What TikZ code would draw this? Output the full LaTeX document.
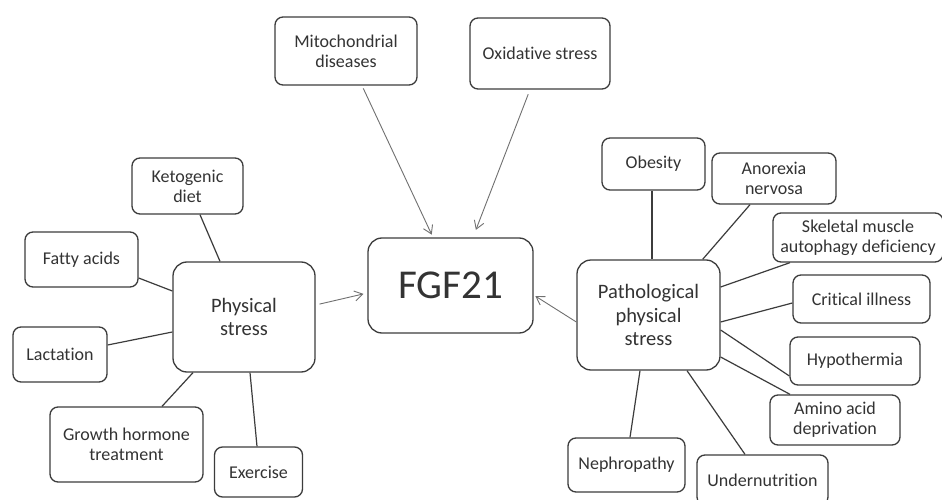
\documentclass[tikz,border=0pt]{standalone}
\usepackage{fontspec}
\setmainfont{Carlito}[Ligatures=NoCommon]
\usetikzlibrary{arrows.meta}
\definecolor{boxc}{HTML}{3C3C3C}
\definecolor{txtc}{HTML}{333333}
\definecolor{arrc}{HTML}{707070}
\tikzset{
  box/.style={draw=boxc, line width=1.3pt, rounded corners=8pt, align=center,
    inner sep=0pt, text=txtc, font=\fontsize{18}{20}\selectfont},
  bigbox/.style={box, rounded corners=14pt, font=\fontsize{20.5}{23.5}\selectfont},
  link/.style={draw=boxc, line width=1.2pt},
  arr/.style={draw=arrc, line width=0.9pt, -{Straight Barb[length=8pt,width=10pt,line width=0.9pt]}}
}
\newcommand{\bx}[5]{\node[box, minimum width=#3pt, minimum height=#4pt] (#1) at (#2) {#5};}
\begin{document}
\begin{tikzpicture}[x=1pt,y=-1pt]
\useasboundingbox (0,0) rectangle (942,500);
\clip (0,0) rectangle (942,500);
\fill[white] (0,0) rectangle (942,500);
% centre
\node[box, rounded corners=14pt, minimum width=165pt, minimum height=95pt, font=\fontsize{41}{45}\selectfont] (fgf) at (450.5,285.5) {FGF21};
\node[bigbox, minimum width=142pt, minimum height=110pt] (phys) at (244,317) {Physical\\stress};
\node[bigbox, minimum width=143pt, minimum height=110pt] (path) at (648.5,315) {Pathological\\physical\\stress};
% top
\bx{mito}{346,51}{142}{68}{Mitochondrial\\diseases}
\bx{oxid}{540,53.5}{140}{71}{Oxidative stress}
% left
\bx{keto}{187.5,186}{111}{56}{Ketogenic\\diet}
\bx{fatty}{81.5,259.5}{113}{55}{Fatty acids}
\bx{lact}{60,354.5}{94}{55}{Lactation}
\bx{growth}{126.5,444.5}{153}{75}{Growth hormone\\treatment}
\bx{exer}{258.5,472}{88}{50}{Exercise}
% right
\bx{obes}{653.5,164}{103}{52}{Obesity}
\bx{anor}{774,178.5}{124}{51}{Anorexia\\nervosa}
\bx{skel}{858,237.5}{170}{49}{Skeletal muscle\\autophagy deficiency}
\bx{crit}{861.5,299}{137}{48}{Critical illness}
\bx{hypo}{855,361}{130}{48}{Hypothermia}
\bx{amino}{835,420}{130}{50}{Amino acid\\deprivation}
\bx{neph}{626.5,465}{117}{54}{Nephropathy}
\bx{under}{762.5,480}{131}{50}{Undernutrition}
% arrows
\draw[arr, shorten <=3pt, shorten >=3pt] ([xshift=16pt]mito.south) -- ([xshift=-17.5pt]fgf.north);
\draw[arr, shorten <=5pt, shorten >=8pt] ([xshift=-10pt]oxid.south) -- ([xshift=22.5pt]fgf.north);
\draw[arr, shorten <=4pt, shorten >=4pt] ([yshift=12pt]phys.east) -- ([yshift=-7.5pt]fgf.west);
\draw[arr, shorten <=0pt, shorten >=2pt] ([yshift=-7pt]path.west) -- ([yshift=-9.5pt]fgf.east);
% left links
\draw[link] ([xshift=12.5pt]keto.south) -- ([xshift=-24pt]phys.north);
\draw[link] ([yshift=-18.5pt]fatty.east) -- ([yshift=26pt]phys.west);
\draw[link] ([yshift=9.5pt]lact.east) -- ([yshift=-15pt]phys.west);
\draw[link] ([xshift=35.5pt]growth.north) -- ([xshift=-51pt]phys.south);
\draw[link] ([xshift=6pt]phys.south) -- ([xshift=-1.5pt]exer.north);
% right links
\draw[link] ([xshift=-1.5pt]obes.south) -- ([xshift=3.5pt]path.north);
\draw[link] ([xshift=-24pt]anor.south) -- ([xshift=-18pt]path.north east);
\draw[link] ([xshift=-68pt]skel.south) -- ([yshift=28pt]path.east);
\draw[link] ([yshift=-7pt]path.east) -- ([yshift=-4pt]crit.west);
\draw[link] ([yshift=-15pt]path.east) -- ([yshift=-15pt]hypo.west);
\draw[link] ([yshift=-42pt]path.east) -- ([xshift=-45pt]amino.north);
\draw[link] ([xshift=-8.5pt]path.south) -- ([xshift=3.5pt]neph.north);
\draw[link] ([xshift=38.5pt]path.south) -- ([xshift=-17.5pt]under.north);
\end{tikzpicture}
\end{document}
